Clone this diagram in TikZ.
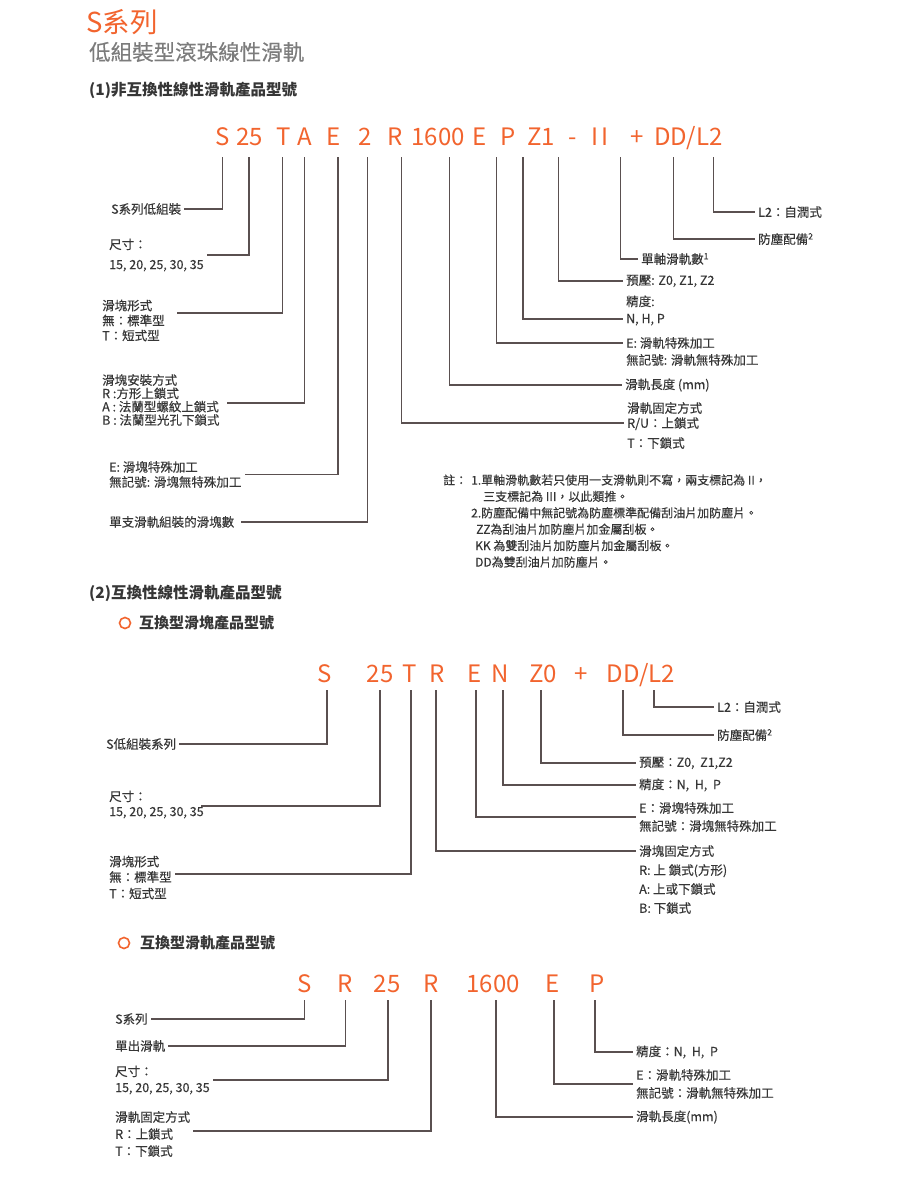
\documentclass[tikz,border=0pt]{standalone}
\usepackage{fontspec}
\setmainfont{Noto Sans CJK TC}
\newfontfamily\lblfont{Noto Sans CJK TC}[FakeBold=0.3]
\definecolor{skOrange}{HTML}{F2642E}
\definecolor{skText}{HTML}{363636}
\definecolor{skGray}{HTML}{7C7C7C}
\definecolor{skLine}{HTML}{5A5050}

\begin{document}
\begin{tikzpicture}[x=1pt, y=-1pt,
    code/.style={text=skOrange, font=\fontsize{24}{24}\selectfont, anchor=base, inner sep=0pt},
    lbl/.style={text=skText, font=\lblfont\fontsize{12.5}{15}\selectfont, align=left, anchor=west, inner sep=3pt},
    note/.style={text=skText, font=\lblfont\fontsize{12}{16.4}\selectfont, align=left, anchor=west, inner sep=0pt},
    head/.style={text=skText, font=\bfseries\fontsize{15.5}{18}\selectfont, anchor=west, inner sep=0pt},
    ringdot/.style={circle, draw=skOrange, line width=1.6pt, minimum size=11pt, inner sep=0pt},
    lead/.style={draw=skLine, line width=1.1pt}]
  \fill[white] (0,0) rectangle (900,1180);
  \useasboundingbox (0,0) rectangle (900,1180);

  % titles
  \node[anchor=west, inner sep=0pt, text=skOrange, font=\fontsize{27.5}{27.5}\selectfont] (title) at (86,22) {S系列};
  \node[anchor=west, inner sep=0pt, text=skGray, font=\lblfont\fontsize{21.5}{21.5}\selectfont] (subtitle) at (89,52) {低組裝型滾珠線性滑軌};
  \node[head] (head1) at (89,90) {(1)非互換性線性滑軌產品型號};

  % (1) code line
  \node[code] (c1S) at (223,146) {S};
  \node[code] (c1size) at (249.5,146) {25};
  \node[code] (c1T) at (284,146) {T};
  \node[code] (c1A) at (305,146) {A};
  \node[code] (c1E) at (334,146) {E};
  \node[code] (c1n) at (365,146) {2};
  \node[code] (c1R) at (395,146) {R};
  \node[code] (c1len) at (438,146) {1600};
  \node[code] (c1E2) at (480,146) {E};
  \node[code] (c1P) at (508,146) {P};
  \node[code] (c1Z) at (541,146) {Z1};
  \node[code] (c1dash) at (572.5,146) {-};
  \node[code] (c1II) at (600,146) {I\kern2pt I};
  \node[code] (c1plus) at (637.5,146) {+};
  \node[code] (c1opt) at (688.5,146) {DD/L2};
  \foreach \n/\x in {S/222.5, size/249, T/282.5, A/304.5, E/338, n/367.5, R/401.5, len/449.5,
      E2/496.5, P/523, Z/558.5, II/620.5, DD/673.5, L2/713.5}
    \coordinate (t1\n) at (\x,157);

  % (1) labels, left
  \node[lbl] (l1a) at (108,209) {S系列低組裝};
  \node[lbl] (l1b) at (106,255) {尺寸：\\[5pt]15, 20, 25, 30, 35};
  \node[lbl] (l1c) at (99,320.5) {滑塊形式\\無：標準型\\T：短式型};
  \node[lbl] (l1d) at (99,400) {滑塊安裝方式\\[-1.7pt]R :方形上鎖式\\[-1.7pt]A : 法蘭型螺紋上鎖式\\[-1.7pt]B : 法蘭型光孔下鎖式};
  \node[lbl] (l1e) at (106,474.5) {E: 滑塊特殊加工\\無記號: 滑塊無特殊加工};
  \node[lbl] (l1f) at (106,522) {單支滑軌組裝的滑塊數};

  % (1) labels, right
  \node[lbl] (r1a) at (755,212) {L2：自潤式};
  \node[lbl] (r1b) at (755,239) {防塵配備\textsuperscript{2}};
  \node[lbl] (r1c) at (638,259) {單軸滑軌數\textsuperscript{1}};
  \node[lbl] (r1d) at (623,281) {預壓: Z0, Z1, Z2};
  \node[lbl] (r1e) at (623,310.5) {精度:\\[2pt]N, H, P};
  \node[lbl] (r1f) at (623,351.5) {E: 滑軌特殊加工\\[2pt]無記號: 滑軌無特殊加工};
  \node[lbl] (r1g) at (622,385) {滑軌長度 (mm)};
  \node[lbl] (r1h) at (624,425.5) {滑軌固定方式\\R/U：上鎖式\\[5pt]T：下鎖式};

  \draw[lead] (t1S) |- (l1a.east);
  \draw[lead] (t1size) |- (l1b.east);
  \draw[lead] (t1T) |- ([xshift=9pt, yshift=7.5pt]l1c.east);
  \draw[lead] (t1A) |- ([xshift=4pt, yshift=-3pt]l1d.east);
  \draw[lead] (t1E) |- (l1e.east);
  \draw[lead] (t1n) |- ([xshift=4pt]l1f.east);
  \draw[lead] (t1R) |- ([yshift=2.5pt]r1h.west);
  \draw[lead] (t1len) |- (r1g.west);
  \draw[lead] (t1E2) |- ([yshift=8.5pt]r1f.west);
  \draw[lead] (t1P) |- ([yshift=-8.5pt]r1e.west);
  \draw[lead] (t1Z) |- (r1d.west);
  \draw[lead] (t1II) |- (r1c.west);
  \draw[lead] (t1DD) |- (r1b.west);
  \draw[lead] (t1L2) |- (r1a.west);

  % notes
  \node[note] (notehead) at (443,480) {註：};
  \node[note] (notes) at (471,521) {1.單軸滑軌數若只使用一支滑軌則不寫，兩支標記為 II，\\
    \hspace*{12pt}三支標記為 III，以此類推。\\
    2.防塵配備中無記號為防塵標準配備刮油片加防塵片。\\
    \hspace*{5pt}ZZ為刮油片加防塵片加金屬刮板。\\
    \hspace*{4pt}KK 為雙刮油片加防塵片加金屬刮板。\\
    \hspace*{4pt}DD為雙刮油片加防塵片。};

  % (2) block
  \node[head] (head2) at (89,593) {(2)互換性線性滑軌產品型號};
  \node[ringdot] (dot2) at (125,623) {};
  \node[head, font=\bfseries\fontsize{15}{18}\selectfont] (sub2) at (139,623) {互換型滑塊產品型號};

  \node[code] (c2S) at (325,682) {S};
  \node[code] (c2size) at (380,682) {25};
  \node[code] (c2T) at (410,682) {T};
  \node[code] (c2R) at (437,682) {R};
  \node[code] (c2E) at (475,682) {E};
  \node[code] (c2N) at (500,682) {N};
  \node[code] (c2Z) at (543,682) {Z0};
  \node[code] (c2plus) at (581,682) {+};
  \node[code] (c2opt) at (641,682) {DD/L2};
  \foreach \n/\x in {S/327, size/380, T/411, R/436, E/476, N/503, Z/541, DD/623, L2/654}
    \coordinate (t2\n) at (\x,690);

  \node[lbl] (l2a) at (103,744) {S低組裝系列};
  \node[lbl] (l2b) at (106,804.5) {尺寸：\\15, 20, 25, 30, 35};
  \node[lbl] (l2c) at (106,877.5) {滑塊形式\\[0.5pt]無：標準型\\[1.5pt]T：短式型};

  \node[lbl] (r2a) at (714,707) {L2：自潤式};
  \node[lbl] (r2b) at (714,735) {防塵配備\textsuperscript{2}};
  \node[lbl] (r2c) at (636,763) {預壓：Z0,\ \ Z1,Z2};
  \node[lbl] (r2d) at (636,785) {精度：N,\ \ H,\ \ P};
  \node[lbl] (r2e) at (636,817) {E：滑塊特殊加工\\[3pt]無記號：滑塊無特殊加工};
  \node[lbl] (r2f) at (636,851) {滑塊固定方式};
  \node[lbl] (r2g) at (636,889) {R: 上\ 鎖式(方形)\\[4pt]A: 上或下鎖式\\[4pt]B: 下鎖式};

  \draw[lead] (t2S) |- (l2a.east);
  \draw[lead] (t2size) |- ([xshift=-6pt, yshift=-1.5pt]l2b.east);
  \draw[lead] (t2T) |- ([yshift=3.5pt]l2c.east);
  \draw[lead] (t2R) |- (r2f.west);
  \draw[lead] (t2E) |- (r2e.west);
  \draw[lead] (t2N) |- (r2d.west);
  \draw[lead] (t2Z) |- (r2c.west);
  \draw[lead] (t2DD) |- (r2b.west);
  \draw[lead] (t2L2) |- (r2a.west);

  % (2) rail block
  \node[ringdot] (dot3) at (124,943) {};
  \node[head, font=\bfseries\fontsize{15}{18}\selectfont] (sub3) at (140,943) {互換型滑軌產品型號};

  \node[code] (c3S) at (305,992) {S};
  \node[code] (c3R) at (345,992) {R};
  \node[code] (c3size) at (387,992) {25};
  \node[code] (c3fix) at (431,992) {R};
  \node[code] (c3len) at (493,992) {1600};
  \node[code] (c3E) at (553,992) {E};
  \node[code] (c3P) at (597,992) {P};
  \foreach \n/\x in {S/304.5, R/345.5, size/388, fix/431, len/496, E/554, P/595}
    \coordinate (t3\n) at (\x,1000);

  \node[lbl] (l3a) at (112,1019) {S系列};
  \node[lbl] (l3b) at (112,1046) {單出滑軌};
  \node[lbl] (l3c) at (112,1080) {尺寸：\\[1pt]15, 20, 25, 30, 35};
  \node[lbl] (l3d) at (112,1134) {滑軌固定方式\\[2pt]R：上鎖式\\[2pt]T：下鎖式};

  \node[lbl] (r3a) at (633,1052) {精度：N,\ \ H,\ \ P};
  \node[lbl] (r3b) at (633,1084) {E：滑軌特殊加工\\[3pt]無記號：滑軌無特殊加工};
  \node[lbl] (r3c) at (633,1117) {滑軌長度(mm)};

  \draw[lead] (t3S) |- (l3a.east);
  \draw[lead] (t3R) |- (l3b.east);
  \draw[lead] (t3size) |- (l3c.east);
  \draw[lead] (t3fix) |- ([yshift=3pt]l3d.east);
  \draw[lead] (t3P) |- (r3a.west);
  \draw[lead] (t3E) |- (r3b.west);
  \draw[lead] (t3len) |- (r3c.west);
\end{tikzpicture}
\end{document}
